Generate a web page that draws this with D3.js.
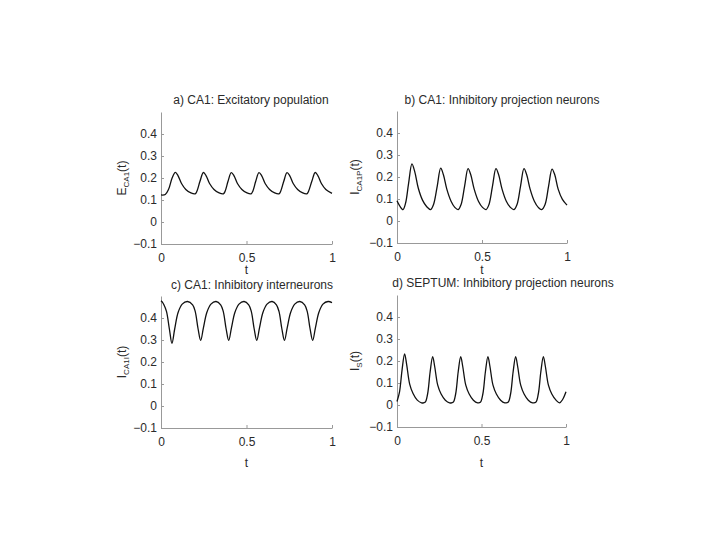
<!DOCTYPE html>
<html>
<head>
<meta charset="utf-8">
<script src="https://cdn.jsdelivr.net/npm/d3@7"></script>
<style>
  body { margin: 0; background: #fff; }
  text { font-family: "Liberation Sans", Arial, sans-serif; fill: #2a2a2a; }
</style>
</head>
<body>
<script>
var Width = 720;
var Height = 540;

// shared ticks
var xTicks = [0, 0.5, 1];
var yTicks = [-0.1, 0, 0.1, 0.2, 0.3, 0.4];

// a) CA1 excitatory
var tA = [0, 0.025, 0.045, 0.065, 0.084, 0.1, 0.12, 0.145, 0.175, 0.2,
  0.21, 0.228, 0.248, 0.264, 0.284, 0.31, 0.34, 0.365,
  0.375, 0.392, 0.411, 0.427, 0.447, 0.473, 0.503, 0.527,
  0.537, 0.554, 0.573, 0.589, 0.609, 0.635, 0.665, 0.69,
  0.7, 0.718, 0.737, 0.753, 0.773, 0.799, 0.829, 0.853,
  0.863, 0.882, 0.902, 0.918, 0.938, 0.964, 1.0];
var vA = [0.123, 0.125, 0.15, 0.2, 0.226, 0.21, 0.175, 0.148, 0.132, 0.128,
  0.14, 0.185, 0.225, 0.21, 0.175, 0.148, 0.132, 0.128,
  0.14, 0.185, 0.224, 0.21, 0.175, 0.148, 0.132, 0.128,
  0.14, 0.185, 0.224, 0.21, 0.175, 0.148, 0.132, 0.128,
  0.14, 0.185, 0.224, 0.21, 0.175, 0.148, 0.132, 0.128,
  0.14, 0.185, 0.225, 0.21, 0.175, 0.148, 0.13];

// b) CA1 inhibitory projection neurons
var tB = [0, 0.015, 0.035, 0.05, 0.068, 0.088, 0.105, 0.125, 0.15, 0.175, 0.198,
  0.215, 0.237, 0.257, 0.273, 0.293, 0.318, 0.34, 0.36,
  0.377, 0.398, 0.418, 0.434, 0.454, 0.479, 0.503, 0.524,
  0.541, 0.562, 0.582, 0.598, 0.618, 0.643, 0.667, 0.688,
  0.706, 0.727, 0.747, 0.763, 0.783, 0.808, 0.831, 0.851,
  0.871, 0.892, 0.912, 0.928, 0.948, 0.973, 1.0];
var vB = [0.092, 0.07, 0.052, 0.08, 0.17, 0.26, 0.222, 0.15, 0.095, 0.065, 0.052,
  0.075, 0.16, 0.24, 0.21, 0.145, 0.09, 0.062, 0.052,
  0.075, 0.16, 0.238, 0.21, 0.145, 0.09, 0.062, 0.052,
  0.075, 0.16, 0.238, 0.21, 0.145, 0.09, 0.062, 0.052,
  0.075, 0.16, 0.238, 0.21, 0.145, 0.09, 0.062, 0.052,
  0.075, 0.16, 0.236, 0.21, 0.145, 0.098, 0.072];

// c) CA1 inhibitory interneurons
var tC = [0, 0.008, 0.017, 0.032, 0.049, 0.064, 0.08, 0.1, 0.124, 0.155,
  0.185, 0.2, 0.217, 0.232, 0.248, 0.268, 0.292, 0.322,
  0.349, 0.364, 0.381, 0.396, 0.412, 0.432, 0.456, 0.486,
  0.513, 0.528, 0.545, 0.56, 0.576, 0.596, 0.62, 0.65,
  0.675, 0.69, 0.707, 0.722, 0.738, 0.758, 0.782, 0.812,
  0.84, 0.855, 0.872, 0.887, 0.903, 0.923, 0.947, 0.977, 1.0];
var vC = [0.478, 0.472, 0.46, 0.43, 0.35, 0.285, 0.35, 0.425, 0.463, 0.475,
  0.46, 0.43, 0.35, 0.298, 0.355, 0.425, 0.463, 0.475,
  0.46, 0.43, 0.35, 0.298, 0.355, 0.425, 0.463, 0.475,
  0.46, 0.43, 0.35, 0.298, 0.355, 0.425, 0.463, 0.475,
  0.46, 0.43, 0.35, 0.298, 0.355, 0.425, 0.463, 0.475,
  0.46, 0.43, 0.35, 0.298, 0.355, 0.425, 0.463, 0.475, 0.47];

// d) SEPTUM inhibitory projection neurons
var tD = [0, 0.015, 0.03, 0.045, 0.057, 0.075, 0.095, 0.12, 0.145,
  0.166, 0.181, 0.196, 0.211, 0.223, 0.241, 0.261, 0.286, 0.311,
  0.332, 0.347, 0.362, 0.377, 0.389, 0.407, 0.427, 0.452, 0.477,
  0.493, 0.508, 0.523, 0.538, 0.55, 0.568, 0.588, 0.613, 0.638,
  0.657, 0.672, 0.687, 0.702, 0.714, 0.732, 0.752, 0.777, 0.802,
  0.821, 0.836, 0.851, 0.866, 0.878, 0.896, 0.916, 0.941, 0.962, 0.98, 1.0];
var vD = [0.016, 0.06, 0.16, 0.232, 0.185, 0.095, 0.052, 0.022, 0.01,
  0.012, 0.05, 0.15, 0.22, 0.175, 0.09, 0.05, 0.022, 0.01,
  0.012, 0.05, 0.15, 0.22, 0.175, 0.09, 0.05, 0.022, 0.01,
  0.012, 0.05, 0.15, 0.22, 0.175, 0.09, 0.05, 0.022, 0.01,
  0.012, 0.05, 0.15, 0.22, 0.175, 0.09, 0.05, 0.022, 0.01,
  0.012, 0.05, 0.15, 0.22, 0.175, 0.09, 0.05, 0.022, 0.01, 0.025, 0.06];

var panels = [
  { title: "a) CA1: Excitatory population", sym: "E", sub: "CA1", t: tA, v: vA,
    left: 161, right: 332, bottom: 244, titleX: 251, titleY: 104, labX: 126, tY: 274 },
  { title: "b) CA1: Inhibitory projection neurons", sym: "I", sub: "CA1P", t: tB, v: vB,
    left: 397, right: 567, bottom: 243, titleX: 502, titleY: 104, labX: 359, tY: 274 },
  { title: "c) CA1: Inhibitory interneurons", sym: "I", sub: "CA1I", t: tC, v: vC,
    left: 161, right: 332, bottom: 428, titleX: 252, titleY: 289, labX: 126, tY: 467 },
  { title: "d) SEPTUM: Inhibitory projection neurons", sym: "I", sub: "S", t: tD, v: vD,
    left: 397, right: 566, bottom: 427, titleX: 503, titleY: 287, labX: 359, tY: 467 }
];

var svg = d3.select("body").append("svg")
  .attr("width", Width)
  .attr("height", Height);

svg.append("rect").attr("width", Width).attr("height", Height).attr("fill", "#fff");

panels.forEach(function (p) {
  var x = d3.scaleLinear().domain([0, 1]).range([p.left, p.right]);
  var y = d3.scaleLinear().domain([-0.1, 0.5]).range([p.bottom, p.bottom - 132]);

  var g = svg.append("g");

  // x axis (ticks inward)
  var xAxis = g.append("g")
    .attr("transform", "translate(0," + p.bottom + ")")
    .call(d3.axisBottom(x).tickValues(xTicks).tickSizeInner(-3).tickSizeOuter(0)
      .tickFormat(d3.format("")));
  // y axis
  var yAxis = g.append("g")
    .attr("transform", "translate(" + p.left + ",0)")
    .call(d3.axisLeft(y).tickValues(yTicks).tickSizeInner(-3).tickSizeOuter(0)
      .tickFormat(function (d) { return d3.format("")(+d.toFixed(1)); }));

  [xAxis, yAxis].forEach(function (ax) {
    ax.select(".domain").attr("stroke", "#999");
    ax.selectAll(".tick line").attr("stroke", "#999");
    ax.selectAll(".tick text").attr("font-size", 12).attr("fill", "#2a2a2a")
      .attr("font-family", "Liberation Sans, Arial, sans-serif");
  });
  xAxis.selectAll(".tick text").attr("y", 9);
  yAxis.selectAll(".tick text").attr("x", -4);

  var pts = p.t.map(function (t, i) { return [t, p.v[i]]; });
  g.append("path")
    .datum(pts)
    .attr("fill", "none")
    .attr("stroke", "#111")
    .attr("stroke-width", 1.3)
    .attr("d", d3.line()
      .x(function (d) { return x(d[0]); })
      .y(function (d) { return y(d[1]); })
      .curve(d3.curveCatmullRom.alpha(0.5)));

  g.append("text")
    .attr("x", p.titleX).attr("y", p.titleY)
    .attr("text-anchor", "middle")
    .attr("font-size", 12)
    .text(p.title);

  g.append("text")
    .attr("x", (p.left + p.right) / 2).attr("y", p.tY)
    .attr("text-anchor", "middle")
    .attr("font-size", 12)
    .text("t");

  var yl = g.append("text")
    .attr("transform", "translate(" + p.labX + "," + (p.bottom - 66) + ") rotate(-90)")
    .attr("text-anchor", "middle")
    .attr("font-size", 12);
  yl.append("tspan").text(p.sym);
  yl.append("tspan").attr("font-size", 8).attr("dy", 3).text(p.sub);
  yl.append("tspan").attr("dy", -3).text("(t)");
});
</script>
</body>
</html>
